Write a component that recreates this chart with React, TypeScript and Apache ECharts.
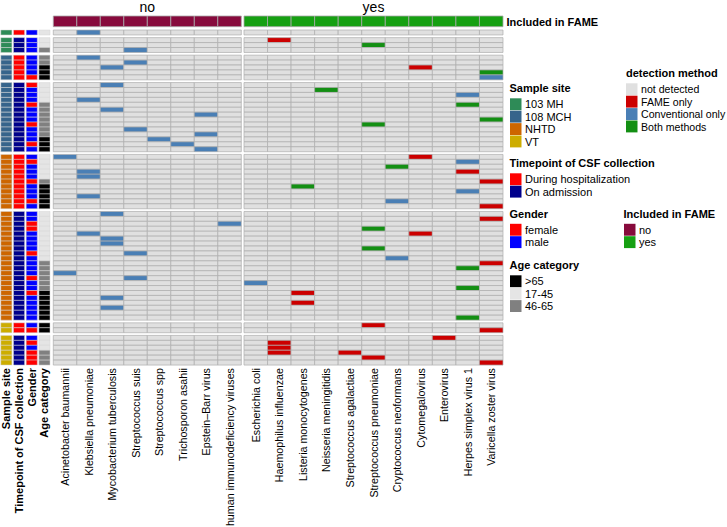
import React, { useEffect, useRef } from "react";
import * as echarts from "echarts";

// ---------- data ----------
const noPathogens = [
  "Acinetobacter baumannii",
  "Klebsiella pneumoniae",
  "Mycobacterium tuberculosis",
  "Streptococcus suis",
  "Streptococcus spp",
  "Trichosporon asahii",
  "Epstein–Barr virus",
  "human immunodeficiency viruses",
];
const yesPathogens = [
  "Escherichia coli",
  "Haemophilus influenzae",
  "Listeria monocytogenes",
  "Neisseria meningitidis",
  "Streptococcus agalactiae",
  "Streptococcus pneumoniae",
  "Cryptococcus neoformans",
  "Cytomegalovirus",
  "Enterovirus",
  "Herpes simplex virus 1",
  "Varicella zoster virus",
];
const detectionLevels = ["not detected", "FAME only", "Conventional only", "Both methods"];
const detectionColors = ["#E0E0E0", "#CC0000", "#4A7FB5", "#138F13"];
const sampleSites = ["103 MH", "108 MCH", "NHTD", "VT"];
const siteColors = ["#2E8B57", "#36648B", "#CD6600", "#CDAD00"];
const timepoints = ["During hospitalization", "On admission"];
const timepointColors = ["#FF0000", "#00008B"];
const genders = ["female", "male"];
const genderColors = ["#FF0000", "#0000FF"];
const ageCategories = [">65", "17-45", "46-65"];
const ageColors = ["#000000", "#E5E5E5", "#808080"];
const fameLevels = ["no", "yes"];
const fameColors = ["#870A3C", "#16A012"];
const annotationNames = ["Sample site", "Timepoint of CSF collection", "Gender", "Age category"];

// row groups (split by sample site x timepoint)
const groupSite = [0, 0, 1, 1, 2, 2, 3, 3];
const groupTimepoint = [0, 1, 0, 1, 0, 1, 0, 1];
// gender per sample row: 0 female, 1 male
const groupGender = [
  [1],
  [1, 1, 1],
  [1, 1, 1, 1, 0],
  [0, 1, 1, 1, 0, 1, 1, 1, 0, 1, 1, 1, 0, 1],
  [1, 0, 1, 1, 1, 0, 1, 1, 1, 0, 1],
  [1, 1, 0, 0, 1, 1, 1, 1, 0, 1, 1, 1, 1, 0, 1, 1, 0, 1, 1, 1, 1, 1],
  [1, 0],
  [1, 0, 1, 0, 0, 0],
];
// age per sample row: 0 >65, 1 17-45, 2 46-65
const groupAge = [
  [1],
  [1, 1, 2],
  [2, 2, 0, 0, 0],
  [1, 1, 1, 1, 2, 2, 2, 2, 2, 2, 2, 0, 0, 0],
  [1, 1, 1, 1, 1, 2, 0, 0, 0, 0, 0],
  [1, 1, 1, 1, 1, 1, 1, 1, 1, 1, 2, 2, 2, 2, 2, 2, 0, 0, 0, 0, 0, 0],
  [0, 0],
  [1, 1, 1, 2, 2, 2],
];
// detections: [sample row (0-based, top to bottom), pathogen, level index]
const detections: [number, string, number][] = [
  [0, "Klebsiella pneumoniae", 2],
  [1, "Haemophilus influenzae", 1],
  [2, "Streptococcus pneumoniae", 3],
  [3, "Streptococcus suis", 2],
  [4, "Klebsiella pneumoniae", 2],
  [5, "Streptococcus suis", 2],
  [6, "Mycobacterium tuberculosis", 2],
  [6, "Cytomegalovirus", 1],
  [7, "Varicella zoster virus", 3],
  [8, "Varicella zoster virus", 2],
  [9, "Mycobacterium tuberculosis", 2],
  [10, "Neisseria meningitidis", 3],
  [11, "Herpes simplex virus 1", 2],
  [12, "Klebsiella pneumoniae", 2],
  [13, "Herpes simplex virus 1", 3],
  [14, "Mycobacterium tuberculosis", 2],
  [15, "Epstein–Barr virus", 2],
  [16, "Varicella zoster virus", 3],
  [17, "Streptococcus pneumoniae", 3],
  [18, "Streptococcus suis", 2],
  [19, "Epstein–Barr virus", 2],
  [20, "Streptococcus spp", 2],
  [21, "Trichosporon asahii", 2],
  [22, "Epstein–Barr virus", 2],
  [23, "Acinetobacter baumannii", 2],
  [23, "Cytomegalovirus", 1],
  [24, "Herpes simplex virus 1", 2],
  [25, "Cryptococcus neoformans", 3],
  [26, "Klebsiella pneumoniae", 2],
  [26, "Herpes simplex virus 1", 1],
  [27, "Klebsiella pneumoniae", 2],
  [28, "Varicella zoster virus", 1],
  [29, "Listeria monocytogenes", 3],
  [30, "Herpes simplex virus 1", 2],
  [31, "Klebsiella pneumoniae", 2],
  [32, "Cryptococcus neoformans", 2],
  [33, "Varicella zoster virus", 1],
  [34, "Mycobacterium tuberculosis", 2],
  [35, "Varicella zoster virus", 1],
  [36, "human immunodeficiency viruses", 2],
  [37, "Streptococcus pneumoniae", 3],
  [38, "Klebsiella pneumoniae", 2],
  [38, "Cytomegalovirus", 1],
  [39, "Mycobacterium tuberculosis", 2],
  [40, "Mycobacterium tuberculosis", 2],
  [41, "Streptococcus pneumoniae", 3],
  [42, "Streptococcus suis", 2],
  [43, "Cryptococcus neoformans", 2],
  [44, "Varicella zoster virus", 1],
  [45, "Herpes simplex virus 1", 3],
  [46, "Acinetobacter baumannii", 2],
  [47, "Streptococcus suis", 2],
  [48, "Escherichia coli", 2],
  [49, "Herpes simplex virus 1", 3],
  [50, "Listeria monocytogenes", 1],
  [51, "Mycobacterium tuberculosis", 2],
  [52, "Listeria monocytogenes", 1],
  [53, "Mycobacterium tuberculosis", 2],
  [55, "Herpes simplex virus 1", 3],
  [56, "Streptococcus pneumoniae", 1],
  [57, "Varicella zoster virus", 1],
  [58, "Enterovirus", 1],
  [59, "Haemophilus influenzae", 1],
  [60, "Haemophilus influenzae", 1],
  [61, "Haemophilus influenzae", 1],
  [61, "Streptococcus agalactiae", 1],
  [62, "Streptococcus pneumoniae", 1],
  [63, "Varicella zoster virus", 1],
];

// ---------- layout ----------
const FONT = "'Liberation Sans', Arial, Helvetica, sans-serif";
const TOP = 30;
const ROW_H = 4.94;
const GAP = 2.7;
const ANN_LEFT = 0;
const ANN_W = 50.8;
const NO_LEFT = 53.3;
const NO_W = 188;
const YES_LEFT = 244;
const YES_W = 259;
const FAME_TOP = 16;
const FAME_H = 10.7;

function buildOption() {
  const detMap = new Map<string, number>();
  detections.forEach(([r, p, l]) => detMap.set(r + "|" + p, l));
  const annPalettes = [siteColors, timepointColors, genderColors, ageColors];

  const grids: any[] = [];
  const xAxes: any[] = [];
  const yAxes: any[] = [];
  const series: any[] = [];

  const addGrid = (left: number, top: number, width: number, height: number) => {
    grids.push({ left, top, width, height, outerBoundsMode: "none", containLabel: false, show: false });
    return grids.length - 1;
  };

  const heatRender = (palette: string[], inset: number, stroke: string, lw: number) =>
    (_p: any, api: any) => {
      const c = api.coord([api.value(0), api.value(1)]);
      const s = api.size([1, 1]);
      const w = s[0] - 2 * inset;
      return {
        type: "rect",
        shape: { x: c[0] - w / 2, y: c[1] - s[1] / 2, width: w, height: s[1] },
        style: { fill: palette[api.value(2)], stroke, lineWidth: lw },
      };
    };

  const annRender = (_p: any, api: any) => {
    const c = api.coord([api.value(0), api.value(1)]);
    const s = api.size([1, 1]);
    const w = s[0] - 1.6;
    return {
      type: "rect",
      shape: { x: c[0] - w / 2, y: c[1] - s[1] / 2, width: w, height: s[1] },
      style: { fill: annPalettes[api.value(0)][api.value(2)], stroke: "#D4D4D4", lineWidth: 0.5 },
    };
  };

  const hiddenLabel = { show: false };
  const colLabel = (bold: boolean) => ({
    show: true,
    rotate: 90,
    interval: 0,
    margin: 3,
    fontSize: bold ? 11 : 10.7,
    fontWeight: bold ? "bold" : "normal",
    color: "#000",
    fontFamily: FONT,
  });

  // top annotation: Included in FAME
  [noPathogens, yesPathogens].forEach((names, b) => {
    const gi = addGrid(b === 0 ? NO_LEFT : YES_LEFT, FAME_TOP, b === 0 ? NO_W : YES_W, FAME_H);
    xAxes.push({ gridIndex: gi, type: "category", data: names, show: false });
    yAxes.push({ gridIndex: gi, type: "category", data: ["Included in FAME"], show: false });
    series.push({
      type: "custom",
      xAxisIndex: xAxes.length - 1,
      yAxisIndex: yAxes.length - 1,
      silent: true,
      renderItem: heatRender(fameColors, 0, "#A8A8A8", 0.8),
      data: names.map((_, i) => [i, 0, b]),
    });
  });

  let rowStart = 0;
  const nGroups = groupGender.length;
  groupGender.forEach((gRows, g) => {
    const n = gRows.length;
    const top = TOP + rowStart * ROW_H + g * GAP;
    const height = n * ROW_H;
    const last = g === nGroups - 1;
    const rowCats = gRows.map((_, k) => String(rowStart + k + 1));

    // row annotations
    const ai = addGrid(ANN_LEFT, top, ANN_W, height);
    xAxes.push({
      gridIndex: ai,
      type: "category",
      data: annotationNames,
      axisLine: { show: false },
      axisTick: { show: false },
      splitLine: { show: false },
      axisLabel: last ? colLabel(true) : hiddenLabel,
    });
    yAxes.push({ gridIndex: ai, type: "category", data: rowCats, inverse: true, show: false });
    const annData: number[][] = [];
    gRows.forEach((gd, k) => {
      annData.push([0, k, groupSite[g]]);
      annData.push([1, k, groupTimepoint[g]]);
      annData.push([2, k, gd]);
      annData.push([3, k, groupAge[g][k]]);
    });
    series.push({
      type: "custom",
      xAxisIndex: xAxes.length - 1,
      yAxisIndex: yAxes.length - 1,
      silent: true,
      renderItem: annRender,
      data: annData,
    });

    // heatmap blocks
    [noPathogens, yesPathogens].forEach((names, b) => {
      const gi = addGrid(b === 0 ? NO_LEFT : YES_LEFT, top, b === 0 ? NO_W : YES_W, height);
      xAxes.push({
        gridIndex: gi,
        type: "category",
        data: names,
        axisLine: { show: false },
        axisTick: { show: false },
        splitLine: { show: false },
        axisLabel: last ? colLabel(false) : hiddenLabel,
      });
      yAxes.push({ gridIndex: gi, type: "category", data: rowCats, inverse: true, show: false });
      const data: number[][] = [];
      for (let k = 0; k < n; k++) {
        names.forEach((p, i) => {
          data.push([i, k, detMap.get(rowStart + k + "|" + p) ?? 0]);
        });
      }
      series.push({
        type: "custom",
        xAxisIndex: xAxes.length - 1,
        yAxisIndex: yAxes.length - 1,
        silent: true,
        renderItem: heatRender(detectionColors, 0, "#ADADAD", 0.7),
        data,
      });
    });

    rowStart += n;
  });

  // ---------- graphic: titles & legends ----------
  const txt = (x: number, y: number, text: string, opts: any = {}) => ({
    type: "text",
    x,
    y,
    silent: true,
    style: {
      text,
      fill: "#000",
      font: `${opts.weight || "normal"} ${opts.size || 11}px ${FONT}`,
      textAlign: opts.align || "left",
      align: opts.align || "left",
      textVerticalAlign: "middle",
      verticalAlign: "middle",
    },
  });
  const graphics: any[] = [];
  graphics.push(txt(NO_LEFT + NO_W / 2, 7, fameLevels[0], { size: 14, align: "center" }));
  graphics.push(txt(YES_LEFT + YES_W / 2, 7, fameLevels[1], { size: 14, align: "center" }));
  graphics.push(txt(506.5, 21.5, "Included in FAME", { weight: "bold" }));

  const legend = (sx: number, tx: number, titleX: number, titleY: number, title: string, labels: string[], colors: string[], size = 11) => {
    graphics.push(txt(titleX, titleY, title, { weight: "bold" }));
    labels.forEach((l, i) => {
      const t = titleY + 10.3 + i * 12.4;
      graphics.push({
        type: "rect",
        silent: true,
        shape: { x: sx, y: t, width: 11.5, height: 11.9 },
        style: { fill: colors[i] },
      });
      graphics.push(txt(tx, t + 6, l, { size }));
    });
  };
  legend(510, 525, 509.5, 88, "Sample site", sampleSites, siteColors);
  legend(510, 525, 509.5, 163, "Timepoint of CSF collection", timepoints, timepointColors);
  legend(510, 525, 509.5, 213.5, "Gender", genders, genderColors);
  legend(510, 525, 509.5, 265, "Age category", ageCategories, ageColors);
  legend(626, 641, 626, 73, "detection method", detectionLevels, detectionColors, 10.6);
  legend(624, 639, 623.5, 213.5, "Included in FAME", fameLevels, fameColors);

  return {
    animation: false,
    backgroundColor: "#FFFFFF",
    textStyle: { fontFamily: FONT },
    grid: grids,
    xAxis: xAxes,
    yAxis: yAxes,
    series,
    graphic: { elements: graphics },
  };
}

export default function App() {
  const ref = useRef<HTMLDivElement>(null);
  useEffect(() => {
    if (!ref.current) return;
    const chart = echarts.init(ref.current, undefined, { renderer: "svg" });
    chart.setOption(buildOption() as any);
    return () => chart.dispose();
  }, []);
  return (
    <div
      ref={ref}
      style={{ position: "fixed", left: 0, top: 0, width: 727, height: 527, background: "#fff" }}
    />
  );
}
